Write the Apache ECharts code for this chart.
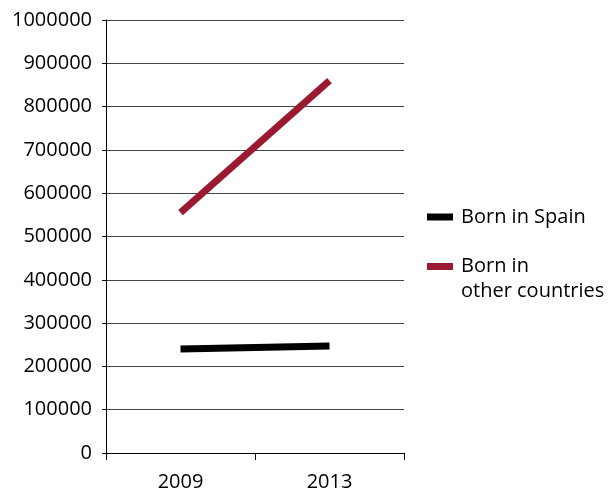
<!DOCTYPE html>
<html>
<head>
<meta charset="utf-8">
<script src="https://cdn.jsdelivr.net/npm/echarts@6/dist/echarts.min.js"></script>
<style>
  html, body { margin: 0; padding: 0; background: #fff; }
  #chart { width: 615px; height: 488px; }
</style>
</head>
<body>
<div id="chart"></div>
<script>
// Population by place of birth, two survey years
const years = ['2009', '2013'];
const bornInSpain = [240000, 247000];
const bornAbroad = [555000, 860000];
const seriesNames = ['Born in Spain', 'Born in other countries'];
const yTicks = { min: 0, max: 1000000, step: 100000 };

const FONT = 'Open Sans';
const TEXT = '#000';
const WEIGHT = 500;

const chart = echarts.init(document.getElementById('chart'), null, { renderer: 'canvas' });

chart.setOption({
  animation: false,
  backgroundColor: '#fff',
  grid: {
    left: 106, right: 211, top: 20, bottom: 35,
    containLabel: false,
    outerBoundsMode: 'none'
  },
  xAxis: {
    type: 'category',
    data: years,
    boundaryGap: true,
    axisLine: { show: true, lineStyle: { color: '#000', width: 1 } },
    axisTick: { show: true, length: 7, alignWithLabel: false, lineStyle: { color: '#000' } },
    axisLabel: { color: TEXT, fontFamily: FONT, fontWeight: WEIGHT, fontSize: 20, margin: 19 },
    splitLine: { show: false }
  },
  yAxis: {
    type: 'value',
    min: yTicks.min,
    max: yTicks.max,
    interval: yTicks.step,
    axisLine: { show: true, lineStyle: { color: '#000', width: 1 } },
    axisTick: { show: true, length: 4, lineStyle: { color: '#000' } },
    axisLabel: {
      color: TEXT, fontFamily: FONT, fontWeight: WEIGHT, fontSize: 20, margin: 14,
      formatter: (v) => String(v)
    },
    splitLine: { show: true, lineStyle: { color: '#444', width: 1 } }
  },
  legend: [
    {
      orient: 'vertical',
      left: 427, top: 207, padding: 0,
      icon: 'rect', itemWidth: 26, itemHeight: 7, itemGap: 10,
      data: [seriesNames[0]],
      textStyle: { color: TEXT, fontFamily: FONT, fontWeight: WEIGHT, fontSize: 20, padding: [0, 0, 0, 3] }
    },
    {
      orient: 'vertical',
      left: 427, top: 229, padding: 0,
      icon: 'rect', itemWidth: 26, itemHeight: 7, itemGap: 10,
      data: [seriesNames[1]],
      // blank first line keeps the swatch level with "Born in"
      formatter: () => '\nBorn in\nother countries',
      textStyle: { color: TEXT, fontFamily: FONT, fontWeight: WEIGHT, fontSize: 20, lineHeight: 25, padding: [0, 0, 0, 3] }
    }
  ],
  series: [
    {
      name: seriesNames[0],
      type: 'line',
      data: bornInSpain,
      symbol: 'none',
      color: '#000',
      lineStyle: { width: 7, color: '#000', cap: 'butt' }
    },
    {
      name: seriesNames[1],
      type: 'line',
      data: bornAbroad,
      symbol: 'none',
      color: '#9c1a31',
      lineStyle: { width: 7, color: '#9c1a31', cap: 'butt' }
    }
  ]
});
</script>
</body>
</html>
